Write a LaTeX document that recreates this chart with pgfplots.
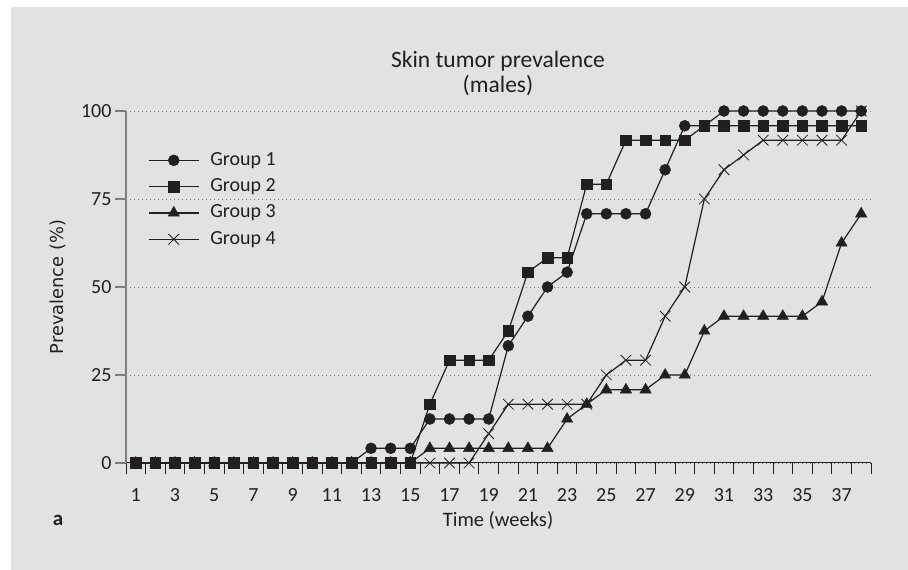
\documentclass[border=0pt]{standalone}
\usepackage{pgfplots}
\pgfplotsset{compat=1.18}
\usepackage{fontspec}
\setmainfont{Carlito}
\newfontfamily\ylabfont{DejaVu Sans}
\definecolor{bg}{RGB}{225,226,228}
\definecolor{ink}{RGB}{35,31,32}
\definecolor{axgray}{RGB}{125,125,125}
\definecolor{gridgray}{RGB}{130,130,130}

\pgfplotstableread{
x g1 g2 g3 g4
1 0 0 0 0
2 0 0 0 0
3 0 0 0 0
4 0 0 0 0
5 0 0 0 0
6 0 0 0 0
7 0 0 0 0
8 0 0 0 0
9 0 0 0 0
10 0 0 0 0
11 0 0 0 0
12 0 0 0 0
13 4.17 0 0 0
14 4.17 0 0 0
15 4.17 0 0 0
16 12.5 16.7 4.17 0
17 12.5 29.2 4.17 0
18 12.5 29.2 4.17 0
19 12.5 29.2 4.17 8.33
20 33.3 37.5 4.17 16.7
21 41.7 54.2 4.17 16.7
22 50.0 58.3 4.17 16.7
23 54.2 58.3 12.5 16.7
24 70.8 79.2 16.7 16.7
25 70.8 79.2 20.8 25.0
26 70.8 91.7 20.8 29.2
27 70.8 91.7 20.8 29.2
28 83.3 91.7 25.0 41.7
29 95.8 91.7 25.0 50.0
30 95.8 95.8 37.5 75.0
31 100 95.8 41.7 83.3
32 100 95.8 41.7 87.5
33 100 95.8 41.7 91.7
34 100 95.8 41.7 91.7
35 100 95.8 41.7 91.7
36 100 95.8 45.8 91.7
37 100 95.8 62.5 91.7
38 100 95.8 70.8 100
}\datatable

\begin{document}
\begin{tikzpicture}[x=1pt,y=1pt]
\fill[bg] (11,0) rectangle (908,563);
\path (0,0) rectangle (908,570);
\begin{axis}[
  at={(126pt,107pt)}, anchor=south west,
  scale only axis, width=745pt, height=352pt,
  xmin=0.5, xmax=38.5, ymin=0, ymax=100,
  clip=false,
  axis x line=bottom, axis y line=left,
  axis line style={-},
  x axis line style={ink, line width=1pt},
  y axis line style={axgray, line width=1.4pt},
  xtick={1,3,...,37},
  minor xtick={0.5,1.5,...,38.5},
  ytick={0,25,50,75,100},
  tick align=outside,
  major tick length=11pt,
  minor tick length=11pt,
  major x tick style={draw=none},
  minor x tick style={ink, line width=0.9pt},
  major y tick style={axgray, line width=1.2pt},
  ymajorgrids,
  major y grid style={gridgray, line width=0.9pt, dash pattern=on 1pt off 3pt},
  /pgf/number format/assume math mode=true,
  ticklabel style={font=\fontsize{20}{24}\selectfont, text=ink},
  xticklabel style={yshift=-11pt},
  every axis plot/.append style={ink, line width=1.2pt},
  legend style={at={(0.0295,0.886)}, anchor=north west, draw=none, fill=none,
    font=\fontsize{20}{24}\selectfont, text=ink, row sep=8.3pt, column sep=0pt,
    inner sep=0pt,
    nodes={inner sep=0pt, text height=14pt, text depth=4pt}},
  legend cell align=left,
  legend image code/.code={\draw[mark repeat=2,mark phase=2,#1] plot coordinates {(0pt,0pt) (25pt,0pt) (50pt,0pt)}; \path (61pt,0pt);},
]
\addlegendimage{ink, line width=1.2pt, mark=*, mark size=5.5pt, mark options={fill=ink, line width=0.5pt}}
\addlegendentry{Group 1}
\addlegendimage{ink, line width=1.2pt, mark=square*, mark size=5.3pt, mark options={fill=ink, line width=0.5pt}}
\addlegendentry{Group 2}
\addlegendimage{ink, line width=1.2pt, mark=triangle*, mark size=6.5pt, mark options={fill=ink, line width=0.5pt}}
\addlegendentry{Group 3}
\addlegendimage{ink, line width=1.2pt, mark=x, mark size=7.5pt, mark options={line width=0.8pt}}
\addlegendentry{Group 4}

\addplot[forget plot, ink, line width=1.2pt, mark=*, mark size=5.5pt, mark options={fill=ink, line width=0.5pt}] table[x=x, y=g1] {\datatable};
\addplot[forget plot, ink, line width=1.2pt, mark=triangle*, mark size=6.5pt, mark options={fill=ink, line width=0.5pt}] table[x=x, y=g3] {\datatable};
\addplot[forget plot, ink, line width=1.2pt, mark=x, mark size=7.5pt, mark options={line width=0.8pt}] table[x=x, y=g4] {\datatable};
\addplot[forget plot, ink, line width=1.2pt, mark=square*, mark size=5.3pt, mark options={fill=ink, line width=0.5pt}] table[x=x, y=g2] {\datatable};
\end{axis}
\node[text=ink, font=\fontsize{23.5}{25.5}\selectfont, align=center] at (498,496.5) {Skin tumor prevalence\\(males)};
\node[text=ink, font=\fontsize{20.5}{24}\selectfont] at (498,50) {Time (weeks)};
\node[text=ink, font=\ylabfont\fontsize{17.8}{20}\selectfont, rotate=90] at (58,283) {Prevalence (\%)};
\node[text=ink, font=\fontsize{21}{24}\selectfont\bfseries] at (58,50) {a};
\end{tikzpicture}
\end{document}
